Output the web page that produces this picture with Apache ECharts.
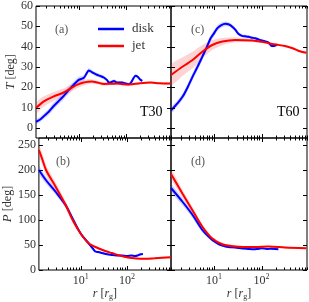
<!DOCTYPE html>
<html><head><meta charset="utf-8">
<script src="https://cdn.jsdelivr.net/npm/echarts@6/dist/echarts.min.js"></script>
<style>html,body{margin:0;padding:0;background:#fff}#c{width:309px;height:302px}</style>
</head><body><div id="c"></div>
<script>
// ---------- data ----------
// panel (a) T30, tilt T
const aDiskR = [1.25,1.5,1.8,2.3,2.9,3.7,4.8,6,7.8,10,12.8,14.5,16.3,18,20.8,25,29,34,40,43.6,49,55.5,60,65,83,100,116,130,145,161,180,200,222];
const aDiskV = [3.0,4.0,5.6,7.8,10.5,13.0,15.6,18.3,21.1,23.6,24.6,26.5,28.2,27.8,26.9,26.0,25.5,24.8,23.5,22.3,22.5,23.1,22.7,22.3,22.3,21.8,21.5,22.5,24.5,25.6,25.0,23.8,23.1];
const aDiskE = [1.2,1.3,1.4,1.5,1.6,1.7,1.8,1.8,1.7,1.5,1.3,1.2,1.2,1.1,1.0,1.0,0.9,0.9,0.8,0.8,0.8,0.8,0.8,0.8,0.7,0.7,0.7,0.7,0.7,0.7,0.7,0.7,0.7];
const aJetR = [1.25,1.8,2.9,4.8,7.8,10,12.8,16,19,25,34,50,65,90,116,200,335,500,890];
const aJetV = [9.7,12.9,15.4,17.4,20.3,21.5,22.3,22.7,22.8,22.3,21.6,21.7,21.8,21.5,21.4,22.0,22.3,22.0,21.8];
const aJetE = [2.6,2.5,2.3,2.0,1.8,1.6,1.4,1.2,1.0,0.9,0.8,0.7,0.6,0.6,0.6,0.5,0.5,0.5,0.5];
// panel (c) T60, tilt T
const cDiskR = [1.25,1.7,2.2,2.8,3.55,4.5,5.7,7,8.5,10,11.7,14,17.5,20,22.3,25,28.3,32,38.8,45,53.5,60,74,85,101,120,140,164,185,208];
const cDiskV = [8.5,12,15.4,20,25.2,30,35.1,39.5,44.1,46.5,49,50.5,51.2,51,50.5,49.5,48.2,46.5,45.3,45.1,44.9,44.5,44.1,43.6,43,42.5,42,40.3,40.3,40.8];
const cDiskE = [1.5,1.5,1.6,1.7,1.8,1.8,1.8,1.7,1.6,1.5,1.4,1.3,1.2,1.1,1.0,1.0,0.9,0.9,0.8,0.8,0.8,0.7,0.7,0.7,0.7,0.6,0.6,0.6,0.6,0.6];
const cJetR = [1.25,2.2,3.55,5.7,9.2,15,28,64,100,140,200,310,450,590,870];
const cJetV = [26.0,30.2,33.4,37.5,40.8,42.5,43.3,43,42.4,41.7,41,40.3,39.2,38,37];
const cJetE = [5,4.6,4.1,3.3,2.5,1.8,1.2,0.8,0.6,0.5,0.5,0.5,0.5,0.5,0.5];
// panel (b) T30, precession P
const bDiskR = [1.25,1.8,2.9,4.8,6.7,10,15,18,20.8,24,29,35,47,60,77,100,126,150,170,190,222];
const bDiskV = [200,179,156,129,103,73,53,44,37,36,34,32,30,29,29,28,29,28,29,31,32];
const bDiskE = [8,7,6,5,4,3.5,3,2.5,2,2,2,2,1.5,1.5,1.5,1.5,1.5,1.5,1.5,1.5,1.5];
const bJetR = [1.25,1.5,1.8,2.9,4.8,6.7,10,15,24,34,47,70,106,160,240,400,890];
const bJetV = [240,220,199,166,129,100,73,53,43.5,38,34,29,25,23,22.4,23.5,25.7];
const bJetE = [12,11,10,9,7,5,4,3,2.5,2,2,1.5,1.5,1.5,1.5,1.5,1.5];
// panel (d) T60, precession P
const dDiskR = [1.25,2.2,3.55,5.7,9.2,12,15,20,28,40,64,80,101,130,160,225];
const dDiskV = [164,136,110,80,60,53,49,46,45,43,41.6,42,43.5,42,42.5,41.6];
const dDiskE = [8,7,6,5,3.5,3,2.5,2,2,1.5,1.5,1.5,1.5,1.5,1.5,1.5];
const dJetR = [1.25,2.2,3.55,5.7,9.2,15,28,74,140,310,870];
const dJetV = [192,152,119,86.5,63,51.5,47,46,47,45,43.5];
const dJetE = [9,8,7,5,3.5,2.5,2,1.5,1.5,1.5,1.5];

const seriesNames = ['disk', 'jet'];
const panelLabels = ['(a)', '(c)', '(b)', '(d)'];
const runLabels = ['T30', 'T60'];
const xMin = 1.25, xMax = 900;
const xMajorTicks = [10, 100];
const xMinorTicks = [2,3,4,5,6,7,8,9,20,30,40,50,60,70,80,90,200,300,400,500,600,700,800,900];
const topYTicks = [0,10,20,30,40,50,60];
const botYTicks = [0,50,100,150,200,250];
const topYRange = [-5, 60];
const botYRange = [0, 264];

// ---------- chart ----------
const FONT = 'Liberation Serif';
const BLUE = '#0000ff', RED = '#ff0000';
const chart = echarts.init(document.getElementById('c'), null, {renderer: 'canvas'});

const grids = [
  {left: 36, top: 6, width: 135, height: 132},
  {left: 171, top: 6, width: 136, height: 132},
  {left: 36, top: 138, width: 135, height: 132},
  {left: 171, top: 138, width: 136, height: 132}
].map(g => Object.assign(g, {show: true, borderColor: '#000', borderWidth: 1, backgroundColor: 'transparent'}));

function xAxisFor(gi) {
  const bottom = gi >= 2;
  return {
    type: 'log', logBase: 10, gridIndex: gi, min: xMin, max: xMax,
    axisLine: {show: false}, axisTick: {show: false}, splitLine: {show: false},
    minorTick: {show: false}, minorSplitLine: {show: false},
    axisLabel: {
      show: bottom, margin: 3, color: '#333', fontFamily: FONT, fontSize: 12,
      showMinLabel: false, showMaxLabel: false,
      formatter: v => {
        const e = Math.log10(v), r = Math.round(e);
        return Math.abs(e - r) < 1e-6 ? '10{s|' + r + '}' : '';
      },
      rich: {s: {fontSize: 8, fontFamily: FONT, color: '#333', padding: [0, 0, 7, 0]}}
    },
    name: bottom ? '{i|r} [{i|r}{g|g}]' : '',
    nameLocation: 'middle', nameGap: 15,
    nameTextStyle: {
      fontFamily: FONT, fontSize: 12, color: '#333',
      rich: {
        i: {fontFamily: FONT, fontStyle: 'italic', fontSize: 12, color: '#333'},
        g: {fontFamily: FONT, fontSize: 8, color: '#333', padding: [7, 0, 0, 0]}
      }
    }
  };
}
function yAxisFor(gi) {
  const top = gi < 2, left = gi % 2 === 0;
  const rng = top ? topYRange : botYRange;
  const step = top ? 10 : 50;
  return {
    type: 'value', gridIndex: gi, min: rng[0], max: rng[1], interval: top ? 5 : 50,
    axisLine: {show: false}, axisTick: {show: false}, splitLine: {show: false},
    axisLabel: {
      show: left, margin: 3, color: '#333', fontFamily: FONT, fontSize: 12,
      formatter: v => (Math.abs(v % step) < 1e-9 && v >= 0 && v <= (top ? 60 : 250)) ? String(v) : ''
    },
    name: left ? (top ? '{i|T} [deg]' : '{i|P} [deg]') : '',
    nameLocation: 'middle', nameGap: 17,
    nameTextStyle: {
      fontFamily: FONT, fontSize: 12, color: '#333',
      rich: {i: {fontFamily: FONT, fontStyle: 'italic', fontSize: 13, color: '#333'}}
    }
  };
}

function tickSeries(gi) {
  const top = gi < 2;
  const yr = top ? topYRange : botYRange;
  const yt = top ? topYTicks : botYTicks;
  const data = [];
  xMajorTicks.forEach(v => data.push([v, yr[0], 0]));
  xMinorTicks.forEach(v => data.push([v, yr[0], 1]));
  yt.forEach(v => data.push([xMin, v, 2]));
  return {
    type: 'custom', xAxisIndex: gi, yAxisIndex: gi, silent: true, z: 10, clip: false,
    encode: {x: 0, y: 1}, data,
    renderItem(params, api) {
      const k = api.value(2), xv = api.value(0), yv = api.value(1);
      const st = {stroke: '#000', lineWidth: 1};
      if (k < 2) {
        const b = api.coord([xv, yr[0]]), t = api.coord([xv, yr[1]]);
        const L = k === 0 ? 4 : 2.5;
        const x = Math.round(b[0]) + 0.5;
        return {type: 'group', children: [
          {type: 'line', shape: {x1: x, y1: b[1], x2: x, y2: b[1] - L}, style: st},
          {type: 'line', shape: {x1: x, y1: t[1], x2: x, y2: t[1] + L}, style: st}
        ]};
      }
      const l = api.coord([xMin, yv]), r = api.coord([xMax, yv]);
      const y = Math.round(l[1]) + 0.5;
      return {type: 'group', children: [
        {type: 'line', shape: {x1: l[0], y1: y, x2: l[0] + 4, y2: y}, style: st},
        {type: 'line', shape: {x1: r[0], y1: y, x2: r[0] - 4, y2: y}, style: st}
      ]};
    }
  };
}

function bandSeries(gi, xs, ys, es, fill) {
  return {
    type: 'custom', xAxisIndex: gi, yAxisIndex: gi, silent: true, z: 1, clip: true,
    encode: {x: 0, y: 1}, data: [[xs[0], ys[0]]],
    renderItem(params, api) {
      const pts = [];
      for (let i = 0; i < xs.length; i++) pts.push(api.coord([xs[i], ys[i] + es[i]]));
      for (let i = xs.length - 1; i >= 0; i--) pts.push(api.coord([xs[i], ys[i] - es[i]]));
      return {type: 'polygon', shape: {points: pts, smooth: 0.25}, style: {fill}};
    }
  };
}

function lineSeries(gi, name, xs, ys, color, z) {
  return {
    type: 'line', name, xAxisIndex: gi, yAxisIndex: gi, z,
    data: xs.map((x, i) => [x, ys[i]]),
    showSymbol: false, symbol: 'none', smooth: 0.3, clip: true,
    lineStyle: {color, width: 2}, itemStyle: {color}
  };
}

const panels = [
  [aDiskR, aDiskV, aDiskE, aJetR, aJetV, aJetE],
  [cDiskR, cDiskV, cDiskE, cJetR, cJetV, cJetE],
  [bDiskR, bDiskV, bDiskE, bJetR, bJetV, bJetE],
  [dDiskR, dDiskV, dDiskE, dJetR, dJetV, dJetE]
];

const series = [];
panels.forEach((p, gi) => {
  series.push(bandSeries(gi, p[0], p[1], p[2], 'rgba(60,60,255,0.22)'));
  series.push(bandSeries(gi, p[3], p[4], p[5], 'rgba(240,60,60,0.22)'));
  series.push(lineSeries(gi, seriesNames[0], p[0], p[1], BLUE, 3));
  series.push(lineSeries(gi, seriesNames[1], p[3], p[4], RED, 4));
  series.push(tickSeries(gi));
});

const labelPos = [[55, 24], [191, 24], [56, 156], [191, 156]];
const graphic = panelLabels.map((t, i) => ({
  type: 'text', left: labelPos[i][0], top: labelPos[i][1], silent: true,
  style: {text: t, font: '12px "' + FONT + '"', fill: '#555'}
}));
graphic.push({type: 'text', left: 140, top: 105, silent: true,
  style: {text: runLabels[0], font: '14px "' + FONT + '"', fill: '#000'}});
graphic.push({type: 'text', left: 277, top: 105, silent: true,
  style: {text: runLabels[1], font: '14px "' + FONT + '"', fill: '#000'}});

chart.setOption({
  animation: false,
  backgroundColor: '#fff',
  grid: grids,
  xAxis: [0, 1, 2, 3].map(xAxisFor),
  yAxis: [0, 1, 2, 3].map(yAxisFor),
  legend: {
    data: seriesNames, orient: 'vertical', left: 93, top: 17,
    itemWidth: 26, itemHeight: 2.5, itemGap: 3, icon: 'rect',
    textStyle: {fontFamily: FONT, fontSize: 13, color: '#333', lineHeight: 14, padding: [0, 0, 0, 3]},
    selectedMode: false
  },
  graphic,
  series
});
</script>
</body></html>
